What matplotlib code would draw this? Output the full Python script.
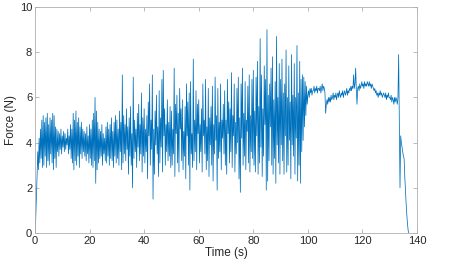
import numpy as np
import matplotlib.pyplot as plt

plt.rcParams['font.family'] = ['Liberation Sans', 'DejaVu Sans']

# force samples (N), one every 0.25 s
dt = 0.25
f_00_10 = [0.0, 0.6, 1.5, 2.5, 3.6, 2.8, 4.2, 3.1, 4.6, 3.3, 5.0, 2.9, 5.2, 3.0, 4.9, 3.4,
           5.1, 2.9, 5.3, 3.2, 4.8, 3.0, 5.1, 3.5, 5.0, 3.1, 5.3, 2.8, 5.2, 3.3, 4.7, 2.9,
           4.6, 3.6, 4.5, 3.4, 4.4, 3.7, 4.6, 3.5]
f_10_20 = [4.3, 3.8, 4.5, 3.6, 4.4, 3.7, 4.2, 3.9, 4.6, 3.5, 4.3, 3.7, 4.8, 3.3, 4.6, 3.1,
           5.3, 2.8, 5.0, 3.2, 5.4, 3.0, 4.9, 3.4, 5.1, 2.9, 4.7, 3.5, 4.9, 3.3, 4.6, 3.6,
           4.5, 3.4, 4.4, 3.2, 4.7, 3.5, 4.3, 3.1]
f_20_30 = [4.8, 3.3, 4.6, 3.0, 5.0, 2.9, 5.3, 3.2, 6.0, 2.2, 5.4, 2.8, 4.9, 3.1, 4.6, 3.3,
           4.5, 3.4, 4.8, 3.0, 4.4, 3.5, 4.2, 3.2, 4.7, 3.1, 4.9, 3.4, 4.6, 3.0, 4.8, 3.3,
           5.1, 3.2, 4.5, 2.9, 4.9, 3.4, 5.2, 3.1]
f_30_40 = [5.0, 3.3, 4.6, 3.0, 5.4, 3.6, 4.9, 2.8, 7.0, 3.1, 5.2, 3.5, 4.8, 3.2, 5.5, 3.7,
           4.7, 2.6, 5.1, 3.4, 5.6, 3.0, 4.4, 2.0, 6.9, 3.3, 5.0, 3.6, 4.6, 2.9, 5.3, 3.8,
           5.7, 3.2, 4.8, 3.5, 6.2, 2.7, 5.1, 3.4]
f_40_50 = [5.5, 3.1, 4.6, 3.6, 5.2, 2.4, 5.8, 4.3, 6.6, 3.0, 5.0, 3.7, 7.0, 1.5, 4.6, 2.6,
           5.4, 3.9, 6.1, 3.5, 4.7, 2.5, 6.3, 3.1, 5.1, 3.8, 6.8, 2.7, 7.2, 4.3, 5.5, 3.0,
           4.8, 3.6, 5.9, 3.2, 4.9, 3.4, 5.6, 2.9]
f_50_60 = [5.4, 3.0, 4.6, 3.5, 7.3, 2.5, 5.7, 4.4, 6.1, 3.1, 5.3, 2.7, 6.4, 4.6, 5.5, 3.2,
           5.9, 2.8, 4.5, 3.4, 5.6, 2.4, 6.6, 4.3, 5.8, 3.0, 6.2, 1.9, 6.7, 3.5, 4.4, 2.9,
           7.7, 3.2, 5.0, 3.6, 6.3, 2.8, 5.7, 4.4]
f_60_70 = [5.9, 3.1, 4.8, 3.6, 5.5, 2.7, 6.6, 4.3, 5.0, 3.5, 6.8, 2.8, 4.7, 3.2, 6.4, 2.5,
           5.1, 3.9, 5.6, 3.0, 6.5, 2.3, 4.8, 3.5, 6.9, 4.1, 5.2, 1.9, 6.4, 3.3, 4.9, 3.6,
           6.6, 2.8, 5.0, 4.2, 5.7, 3.5, 6.3, 3.0]
f_70_80 = [5.0, 2.6, 6.8, 4.4, 5.8, 3.1, 5.5, 3.6, 7.1, 2.9, 5.2, 4.3, 6.6, 2.7, 4.9, 3.5,
           6.4, 4.0, 6.9, 2.4, 5.1, 1.8, 6.6, 4.2, 7.3, 3.0, 5.3, 3.4, 6.7, 2.8, 5.0, 4.5,
           6.5, 3.1, 7.0, 2.7, 5.2, 3.6, 6.8, 3.3]
f_80_90 = [7.2, 3.0, 5.4, 2.7, 6.9, 4.3, 7.6, 2.6, 5.6, 3.1, 8.6, 3.8, 7.0, 2.5, 5.5, 3.4,
           7.4, 4.8, 6.8, 1.9, 9.0, 2.3, 6.1, 3.2, 6.6, 4.7, 7.3, 3.0, 7.8, 2.6, 5.9, 3.3,
           6.7, 2.2, 8.7, 3.9, 6.0, 3.1, 7.5, 2.6]
f_90_100 = [6.8, 3.9, 7.7, 3.2, 6.2, 2.6, 6.6, 4.3, 8.1, 2.7, 6.0, 3.0, 7.4, 4.1, 5.8, 2.4,
            7.9, 3.9, 6.1, 3.4, 7.5, 2.6, 6.0, 4.2, 8.3, 2.3, 6.2, 3.0, 7.6, 2.2, 6.8, 3.6,
            7.0, 4.1, 6.9, 4.7, 6.7, 5.2, 6.5, 5.7]
f_100_118 = [6.1, 6.3, 6.0, 6.4, 6.2, 6.4, 6.1, 6.3, 6.3, 6.5, 6.2, 6.4, 6.3, 6.5, 6.2, 6.4,
             6.4, 6.3, 6.5, 6.2, 6.4, 6.6, 6.3, 6.5, 6.4, 6.2, 5.3, 5.7, 5.9, 5.7, 6.0, 5.8,
             6.0, 5.8, 6.1, 5.9, 6.0, 6.2, 5.9, 6.1, 6.0, 6.2, 5.9, 6.1, 6.2, 6.0, 6.3, 6.1,
             6.0, 6.2, 6.1, 6.3, 6.0, 6.2, 6.3, 6.1, 6.2, 6.4, 6.1, 6.3, 6.2, 6.4, 6.3, 6.5,
             6.3, 6.5, 6.4, 7.0, 6.4, 6.6, 7.3, 6.3]
f_118_137 = [5.7, 6.4, 6.5, 6.3, 6.6, 6.4, 6.5, 6.7, 6.5, 6.6, 6.4, 6.7, 6.5, 6.6, 6.5, 6.7,
             6.6, 6.5, 6.7, 6.5, 6.6, 6.4, 6.6, 6.5, 6.4, 6.3, 6.4, 6.2, 6.3, 6.1, 6.2, 6.0,
             6.2, 6.1, 6.3, 6.1, 6.2, 6.0, 6.1, 6.2, 6.1, 6.0, 6.2, 5.9, 6.1, 6.0, 6.2, 6.0,
             6.0, 5.9, 6.1, 5.8, 6.0, 5.9, 5.7, 6.0, 5.8, 6.0, 5.9, 5.7, 6.0, 7.9, 5.0, 2.0,
             4.3, 4.0, 3.8, 3.6, 3.4, 3.3, 2.5, 1.9, 1.3, 0.8, 0.4, 0.1, 0.0]

force = np.array(f_00_10 + f_10_20 + f_20_30 + f_30_40 + f_40_50 + f_50_60 +
                 f_60_70 + f_70_80 + f_80_90 + f_90_100 + f_100_118 + f_118_137)
t = np.arange(len(force)) * dt

fig = plt.figure(figsize=(4.57, 2.63), dpi=100)
ax = fig.add_axes([0.0766, 0.114, 0.836, 0.859])
ax.plot(t, force, color='#0072BD', lw=0.55)

ax.set_xlim(0, 140)
ax.set_ylim(0, 10)
ax.set_xticks(range(0, 141, 20))
ax.set_yticks(range(0, 11, 2))
ax.set_xlabel('Time (s)', fontsize=8.5, color='#262626', labelpad=1)
ax.set_ylabel('Force (N)', fontsize=8.5, color='#262626', labelpad=2)
ax.tick_params(direction='in', top=True, right=True, labelsize=8,
               colors='#262626', length=3, width=0.5, pad=2)
ax.tick_params(axis='both', which='both', color='#a0a0a0')
for s in ax.spines.values():
    s.set_color('#b0b0b0')
    s.set_linewidth(0.6)

fig.savefig('out.png', dpi=100)
